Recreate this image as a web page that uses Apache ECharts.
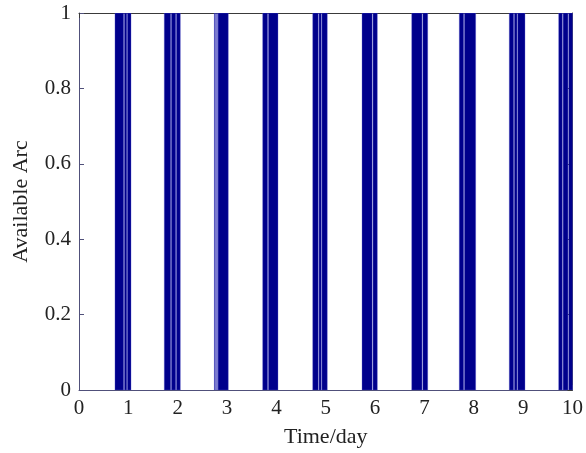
<!DOCTYPE html>
<html>
<head>
<meta charset="utf-8">
<style>
  html, body { margin: 0; padding: 0; background: #fff; }
  #chart { width: 586px; height: 453px; }
</style>
<script src="https://cdn.jsdelivr.net/npm/echarts@6/dist/echarts.min.js"></script>
</head>
<body>
<div id="chart"></div>
<script>
// Access windows (in days) when the arc is available
const windowStart = [
  0.729, 0.920, 0.980,
  1.728, 1.872, 1.974,
  2.742, 2.768, 2.792, 2.818,
  3.722, 3.838,
  4.736, 4.864, 4.922,
  5.735, 5.958,
  6.742, 6.966,
  7.706, 7.810,
  8.719, 8.822, 8.888,
  9.720, 9.810, 9.922
];
const windowEnd = [
  0.905, 0.968, 1.054,
  1.858, 1.960, 2.053,
  2.755, 2.780, 2.805, 3.025,
  3.822, 4.032,
  4.850, 4.910, 5.031,
  5.942, 6.045,
  6.950, 7.066,
  7.795, 8.038,
  8.808, 8.875, 9.037,
  9.795, 9.908, 10.02
];
// Availability flag during each window
const availability = windowStart.map(() => 1);

const xTicks = [0, 1, 2, 3, 4, 5, 6, 7, 8, 9, 10];
const yTicks = [0, 0.2, 0.4, 0.6, 0.8, 1];

const data = windowStart.map((s, i) => [s, windowEnd[i], availability[i]]);

const font = '"Liberation Serif", "DejaVu Serif", serif';
const axisDark = '#3a3a3a';
const axisBlue = '#50507a';

const chart = echarts.init(document.getElementById('chart'), null, { renderer: 'canvas' });

chart.setOption({
  animation: false,
  backgroundColor: '#ffffff',
  grid: { left: 79, right: 13, top: 13, bottom: 63, containLabel: false },
  xAxis: [
    {
      type: 'value', min: xTicks[0], max: xTicks[xTicks.length - 1], interval: 1,
      name: 'Time/day', nameLocation: 'middle', nameGap: 36,
      nameTextStyle: { fontFamily: font, fontSize: 22, color: '#222' },
      axisLine: { show: true, lineStyle: { color: axisBlue, width: 1 } },
      axisTick: { show: true, inside: true, length: 5, lineStyle: { color: axisBlue } },
      axisLabel: { fontFamily: font, fontSize: 21, color: '#222', margin: 8 },
      splitLine: { show: false }
    },
    {
      type: 'value', min: xTicks[0], max: xTicks[xTicks.length - 1], interval: 1, position: 'top',
      axisLine: { show: true, onZero: false, lineStyle: { color: axisDark, width: 1 } },
      axisTick: { show: true, inside: true, length: 5, lineStyle: { color: axisDark } },
      axisLabel: { show: false },
      splitLine: { show: false }
    }
  ],
  yAxis: [
    {
      type: 'value', min: yTicks[0], max: yTicks[yTicks.length - 1], interval: 0.2,
      name: 'Available Arc', nameLocation: 'middle', nameGap: 47,
      nameTextStyle: { fontFamily: font, fontSize: 22, color: '#222' },
      axisLine: { show: true, lineStyle: { color: axisBlue, width: 1 } },
      axisTick: { show: true, inside: true, length: 5, lineStyle: { color: axisBlue } },
      axisLabel: {
        fontFamily: font, fontSize: 21, color: '#222', margin: 8,
        formatter: v => (Math.abs(v) < 1e-9 ? '0' : String(+v.toFixed(1)))
      },
      splitLine: { show: false }
    },
    {
      type: 'value', min: yTicks[0], max: yTicks[yTicks.length - 1], interval: 0.2, position: 'right',
      axisLine: { show: true, onZero: false, lineStyle: { color: axisDark, width: 1 } },
      axisTick: { show: true, inside: true, length: 5, lineStyle: { color: axisDark } },
      axisLabel: { show: false },
      splitLine: { show: false }
    }
  ],
  series: [
    {
      type: 'custom',
      xAxisIndex: 0,
      yAxisIndex: 0,
      clip: true,
      data: data,
      encode: { x: [0, 1], y: 2 },
      renderItem: function (params, api) {
        const p0 = api.coord([api.value(0), api.value(2)]);
        const p1 = api.coord([api.value(1), 0]);
        const rect = echarts.graphic.clipRectByRect(
          { x: p0[0], y: p0[1], width: p1[0] - p0[0], height: p1[1] - p0[1] },
          { x: params.coordSys.x, y: params.coordSys.y,
            width: params.coordSys.width, height: params.coordSys.height }
        );
        return rect && {
          type: 'rect',
          shape: rect,
          style: { fill: '#00008c', stroke: 'rgba(90,90,210,0.55)', lineWidth: 0.6 }
        };
      },
      z: 1
    }
  ]
});
</script>
</body>
</html>
